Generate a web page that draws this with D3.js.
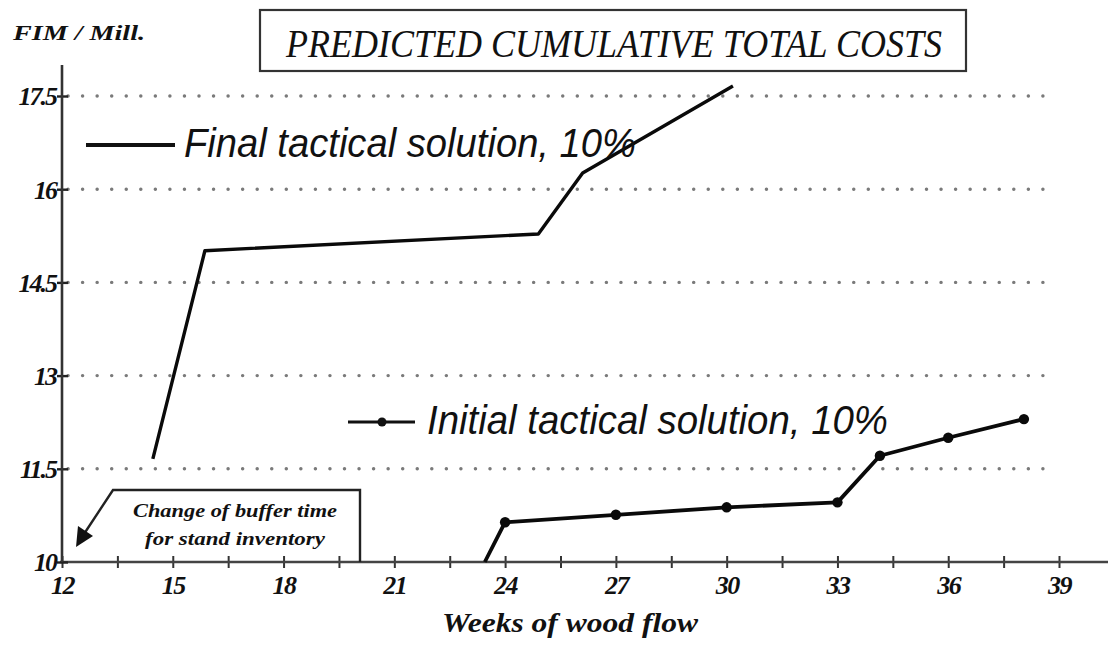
<!DOCTYPE html>
<html>
<head>
<meta charset="utf-8">
<script src="https://cdn.jsdelivr.net/npm/d3@7"></script>
<style>
  html, body { margin: 0; padding: 0; background: #fff; }
  svg { display: block; }
</style>
</head>
<body>
<svg id="chart" width="1111" height="646"></svg>
<script>
// ---- data ----
const finalWeeks  = [14.46, 15.87, 24.9, 26.1, 30.17];
const finalValues = [11.66, 15.01, 15.28, 16.26, 17.66];

const initialWeeks  = [23.45, 24, 27, 30, 33, 34.15, 36, 38.05];
const initialValues = [10.0, 10.64, 10.76, 10.88, 10.96, 11.71, 12.0, 12.3];
const initialMarkers = [false, true, true, true, true, true, true, true];

const xMajorTicks = [12, 15, 18, 21, 24, 27, 30, 33, 36, 39];
const xMinorTicks = [13.5, 16.5, 19.5, 22.5, 25.5, 28.5, 31.5, 34.5, 37.5];
const yTicks = [10, 11.5, 13, 14.5, 16, 17.5];
const yTickLabels = ["10", "11.5", "13", "14.5", "16", "17.5"];

const titleText = "PREDICTED CUMULATIVE TOTAL COSTS";
const yUnitText = "FIM / Mill.";
const xTitleText = "Weeks of wood flow";
const finalLabel = "Final tactical solution, 10%";
const initialLabel = "Initial tactical solution, 10%";
const noteLines = ["Change of buffer time", "for stand inventory"];

// ---- layout ----
const svg = d3.select("#chart");
const x = d3.scaleLinear().domain([12, 39]).range([62, 1059]);
const y = d3.scaleLinear().domain([10, 17.5]).range([562, 96]);
const serif = "'Liberation Serif', 'Times New Roman', serif";
const sans = "'Liberation Sans', Arial, sans-serif";

// gridlines (dotted)
svg.append("g").selectAll("line")
  .data(yTicks.filter(d => d > 10))
  .join("line")
  .attr("x1", 68).attr("x2", 1050)
  .attr("y1", d => y(d)).attr("y2", d => y(d))
  .attr("stroke", "#7a7a7a").attr("stroke-width", 3.4)
  .attr("stroke-linecap", "round")
  .attr("stroke-dasharray", "0.1 14.45");

// x axis
const xAxis = d3.axisBottom(x)
  .tickValues(xMajorTicks.concat(xMinorTicks))
  .tickSizeInner(6).tickSizeOuter(0)
  .tickFormat(d => xMajorTicks.includes(d) ? String(d) : "");
const gx = svg.append("g").attr("transform", `translate(0,${y(10)})`).call(xAxis);
gx.select(".domain").remove();
gx.append("line").attr("x1", 60).attr("x2", 1108).attr("y1", 0).attr("y2", 0)
  .attr("stroke", "#444").attr("stroke-width", 2.6);
gx.selectAll(".tick line").attr("y1", -6).attr("y2", 6)
  .attr("stroke", "#333").attr("stroke-width", 2);
gx.selectAll(".tick text")
  .attr("y", 32).attr("dy", 0)
  .attr("font-family", serif).attr("font-style", "italic").attr("font-weight", "bold")
  .attr("font-size", 26).attr("fill", "#111").attr("letter-spacing", -1.5);

// y axis
const yAxis = d3.axisLeft(y)
  .tickValues(yTicks)
  .tickSizeInner(5).tickSizeOuter(0)
  .tickFormat((d, i) => yTickLabels[i]);
const gy = svg.append("g").attr("transform", `translate(62,0)`).call(yAxis);
gy.select(".domain").remove();
gy.append("line").attr("x1", 0).attr("x2", 0).attr("y1", 65).attr("y2", y(10))
  .attr("stroke", "#333").attr("stroke-width", 2.6);
gy.selectAll(".tick line").attr("x1", -5).attr("x2", 6)
  .attr("stroke", "#222").attr("stroke-width", 2.4);
gy.selectAll(".tick text")
  .attr("x", -6).attr("dy", "0.34em")
  .attr("font-family", serif).attr("font-style", "italic").attr("font-weight", "bold")
  .attr("font-size", 26).attr("fill", "#111").attr("letter-spacing", -2);

// unit label
svg.append("text").attr("x", 13).attr("y", 40)
  .attr("font-family", serif).attr("font-style", "italic").attr("font-weight", "bold")
  .attr("font-size", 21).attr("fill", "#111")
  .attr("textLength", 132).attr("lengthAdjust", "spacingAndGlyphs")
  .text(yUnitText);

// title box
svg.append("rect").attr("x", 260).attr("y", 10).attr("width", 706).attr("height", 61)
  .attr("fill", "none").attr("stroke", "#333").attr("stroke-width", 2.2);
svg.append("text").attr("x", 286).attr("y", 57)
  .attr("font-family", serif).attr("font-style", "italic")
  .attr("font-size", 40).attr("fill", "#111")
  .attr("textLength", 656).attr("lengthAdjust", "spacingAndGlyphs")
  .text(titleText);

// x axis title
svg.append("text").attr("x", 442).attr("y", 632)
  .attr("font-family", serif).attr("font-style", "italic").attr("font-weight", "bold")
  .attr("font-size", 28).attr("fill", "#111")
  .attr("textLength", 256).attr("lengthAdjust", "spacingAndGlyphs")
  .text(xTitleText);

// lines
const line = d3.line().x(d => x(d[0])).y(d => y(d[1]));
const finalData = finalWeeks.map((w, i) => [w, finalValues[i]]);
const initialData = initialWeeks.map((w, i) => [w, initialValues[i]]);

svg.append("path").datum(finalData).attr("d", line)
  .attr("fill", "none").attr("stroke", "#0a0a0a").attr("stroke-width", 3.4)
  .attr("stroke-linejoin", "round");
svg.append("path").datum(initialData).attr("d", line)
  .attr("fill", "none").attr("stroke", "#0a0a0a").attr("stroke-width", 3.8)
  .attr("stroke-linejoin", "round");
svg.append("g").selectAll("circle")
  .data(initialData.filter((d, i) => initialMarkers[i]))
  .join("circle")
  .attr("cx", d => x(d[0])).attr("cy", d => y(d[1])).attr("r", 5.2)
  .attr("fill", "#0a0a0a");

// legend: final
svg.append("line").attr("x1", 86).attr("x2", 175).attr("y1", 145).attr("y2", 145)
  .attr("stroke", "#111").attr("stroke-width", 4);
svg.append("text").attr("x", 184).attr("y", 157)
  .attr("font-family", sans).attr("font-style", "italic")
  .attr("font-size", 41).attr("fill", "#111")
  .attr("textLength", 452).attr("lengthAdjust", "spacingAndGlyphs")
  .text(finalLabel);

// legend: initial
svg.append("line").attr("x1", 348).attr("x2", 415).attr("y1", 422).attr("y2", 422)
  .attr("stroke", "#111").attr("stroke-width", 3.2);
svg.append("circle").attr("cx", 382).attr("cy", 422).attr("r", 4.5).attr("fill", "#111");
svg.append("text").attr("x", 427).attr("y", 434)
  .attr("font-family", sans).attr("font-style", "italic")
  .attr("font-size", 40).attr("fill", "#111")
  .attr("textLength", 461).attr("lengthAdjust", "spacingAndGlyphs")
  .text(initialLabel);

// annotation box with arrow
svg.append("path")
  .attr("d", "M360,562 L360,490 L113,490 L84,534")
  .attr("fill", "none").attr("stroke", "#222").attr("stroke-width", 2.4);
svg.append("path")
  .attr("d", "M76,547 L78,526 L93,536 Z")
  .attr("fill", "#111");
svg.append("g").selectAll("text")
  .data(noteLines)
  .join("text")
  .attr("x", 235).attr("y", (d, i) => 517 + i * 28)
  .attr("text-anchor", "middle")
  .attr("font-family", serif).attr("font-style", "italic").attr("font-weight", "bold")
  .attr("font-size", 18).attr("fill", "#111")
  .attr("textLength", (d, i) => i === 0 ? 204 : 180).attr("lengthAdjust", "spacingAndGlyphs")
  .text(d => d);
</script>
</body>
</html>
